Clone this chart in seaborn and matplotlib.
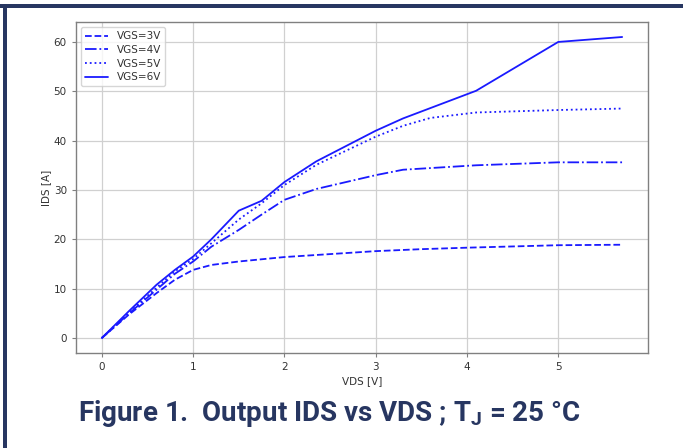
import matplotlib
matplotlib.use("Agg")
import matplotlib.pyplot as plt
import seaborn as sns

# Output characteristics: drain current vs drain-source voltage per gate voltage
vds_3v = [0, 0.3, 0.6, 0.8, 1.0, 1.2, 1.5, 2.0, 2.5, 3.0, 3.5, 4.0, 5.0, 5.7]
ids_3v = [0, 4.8, 9.1, 11.8, 13.8, 14.8, 15.5, 16.4, 17.0, 17.6, 18.0, 18.3, 18.8, 18.9]

vds_4v = [0, 0.3, 0.6, 0.8, 1.0, 1.2, 1.5, 1.75, 2.0, 2.35, 3.0, 3.3, 4.1, 5.0, 5.7]
ids_4v = [0, 5.0, 9.8, 13.0, 15.5, 18.5, 21.9, 25.0, 28.0, 30.2, 33.0, 34.1, 35.0, 35.6, 35.6]

vds_5v = [0, 0.3, 0.6, 0.8, 1.0, 1.2, 1.5, 1.75, 2.0, 2.35, 3.0, 3.3, 3.6, 4.1, 5.0, 5.7]
ids_5v = [0, 5.2, 10.2, 13.5, 16.0, 19.2, 24.0, 27.3, 31.0, 35.1, 40.8, 43.0, 44.6, 45.7, 46.2, 46.5]

vds_6v = [0, 0.3, 0.6, 0.8, 1.0, 1.2, 1.5, 1.75, 2.0, 2.35, 3.0, 3.3, 4.1, 5.0, 5.7]
ids_6v = [0, 5.5, 10.8, 13.8, 16.5, 20.0, 25.8, 27.8, 31.6, 35.8, 42.0, 44.5, 50.1, 60.0, 61.0]

labels = ["VGS=3V", "VGS=4V", "VGS=5V", "VGS=6V"]
styles = ["--", "-.", ":", "-"]

sns.set_style("white")
plt.rcParams["font.family"] = ["DejaVu Sans"]

fig = plt.figure(figsize=(6.83, 4.48), dpi=100)
ax = fig.add_axes([0.111, 0.212, 0.838, 0.739])

series = [(vds_3v, ids_3v), (vds_4v, ids_4v), (vds_5v, ids_5v), (vds_6v, ids_6v)]
for (x, y), lab, ls in zip(series, labels, styles):
    sns.lineplot(x=x, y=y, ax=ax, color="#1a1aff", linestyle=ls, linewidth=1.3,
                 label=lab, sort=False)

ax.grid(True, color="#d0d0d0", linewidth=0.9)
ax.set_axisbelow(True)
for s in ax.spines.values():
    s.set_color("#808080")
    s.set_linewidth(1.0)
ax.tick_params(axis="both", labelsize=7.5, colors="#333333", length=3,
               color="#808080", left=True, bottom=True)
ax.set_xticks([0, 1, 2, 3, 4, 5])
ax.set_yticks([0, 10, 20, 30, 40, 50, 60])
ax.set_xlabel("VDS [V]", fontsize=7.5, color="#333333", labelpad=3)
ax.set_ylabel("IDS [A]", fontsize=7.5, color="#333333", labelpad=2)
ax.margins(x=0.05, y=0.05)

leg = ax.legend(loc="upper left", fontsize=7.5, frameon=True, handlelength=2.2,
                borderpad=0.4, labelspacing=0.35)
leg.get_frame().set_edgecolor("#cccccc")
for t in leg.get_texts():
    t.set_color("#333333")

navy = "#273661"
# Frame bands on the top and left edges
fig.add_artist(plt.Rectangle((0, 1 - 8 / 448), 1, 4 / 448, transform=fig.transFigure,
                             color=navy, lw=0))
fig.add_artist(plt.Rectangle((3 / 683, 0), 4 / 683, 1 - 4 / 448, transform=fig.transFigure,
                             color=navy, lw=0))

fig.text(0.482, 0.076, r"Figure 1.  Output IDS vs VDS ; T$_{\mathregular{J}}$ = 25 °C",
         ha="center", va="center", fontsize=20, fontweight="bold", color=navy,
         family=["Roboto", "DejaVu Sans"])

fig.savefig("out.png", dpi=100)
